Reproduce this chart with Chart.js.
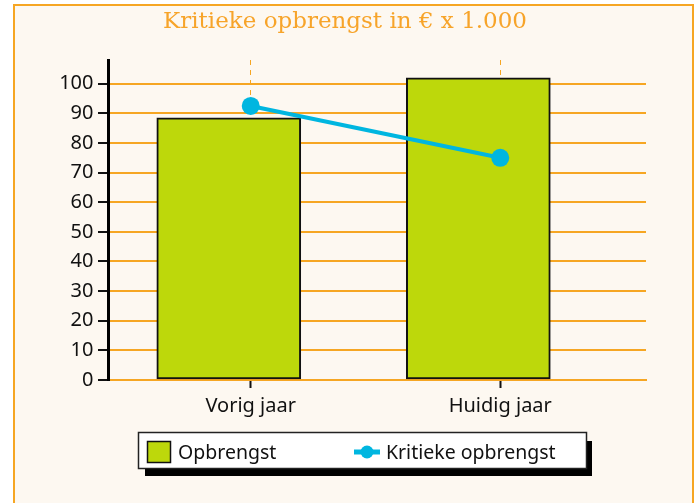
<!DOCTYPE html>
<html>
<head>
<meta charset="utf-8">
<script src="https://cdn.jsdelivr.net/npm/chart.js@4"></script>
<style>
  html, body { margin: 0; padding: 0; background: #fff; }
  #wrap { width: 697px; height: 503px; }
</style>
</head>
<body>
<div id="wrap"><canvas id="chart" width="697" height="503"></canvas></div>
<script>
const categories = ['Vorig jaar', 'Huidig jaar'];
const opbrengst = [88.5, 102];
const kritiekeOpbrengst = [92.5, 75];
const yTicks = [0, 10, 20, 30, 40, 50, 60, 70, 80, 90, 100];

const ORANGE = '#f6a623';
const LIME = '#bdd80b';
const CYAN = '#00b6e0';

Chart.defaults.font.family = "'Noto Sans', sans-serif";
Chart.defaults.color = '#111';

// frame + custom legend box with shadow
const decor = {
    id: 'decor',
    beforeDraw(chart) {
        const ctx = chart.ctx;
        ctx.save();
        ctx.fillStyle = '#ffffff';
        ctx.fillRect(0, 0, chart.width, chart.height);
        ctx.fillStyle = '#fdf8f1';
        ctx.fillRect(14, 5, 679, 500);
        ctx.strokeStyle = ORANGE;
        ctx.lineWidth = 2;
        ctx.strokeRect(14, 5, 679, 500);
        ctx.restore();
    },
    afterDraw(chart) {
        const ctx = chart.ctx;
        const ds = chart.data.datasets;
        ctx.save();
        // shadow
        ctx.fillStyle = '#000';
        ctx.fillRect(145, 441, 447, 35);
        // box
        ctx.fillStyle = '#fff';
        ctx.fillRect(138.5, 432.5, 448, 36);
        ctx.strokeStyle = '#222';
        ctx.lineWidth = 1.5;
        ctx.strokeRect(138.5, 432.5, 448, 36);

        ctx.font = "19.5px 'Noto Sans', sans-serif";
        ctx.textBaseline = 'alphabetic';

        // bar item
        const bar = ds.find(d => d.type === 'bar');
        ctx.fillStyle = bar.backgroundColor;
        ctx.fillRect(147.5, 441.5, 23, 21);
        ctx.strokeStyle = '#111';
        ctx.lineWidth = 1.5;
        ctx.strokeRect(147.5, 441.5, 23, 21);
        ctx.fillStyle = '#111';
        ctx.fillText(bar.label, 178, 459);

        // line item
        const line = ds.find(d => d.type === 'line');
        ctx.strokeStyle = line.borderColor;
        ctx.lineWidth = 5;
        ctx.beginPath();
        ctx.moveTo(354, 452);
        ctx.lineTo(380, 452);
        ctx.stroke();
        ctx.fillStyle = line.borderColor;
        ctx.beginPath();
        ctx.arc(367, 452, 6.5, 0, Math.PI * 2);
        ctx.fill();
        ctx.fillStyle = '#111';
        ctx.fillText(line.label, 386, 459);
        ctx.restore();
    }
};

const data = {
    datasets: [
        {
            type: 'line',
            label: 'Kritieke opbrengst',
            data: kritiekeOpbrengst.map((v, i) => ({ x: i, y: v })),
            xAxisID: 'x',
            borderColor: CYAN,
            backgroundColor: CYAN,
            borderWidth: 4,
            pointRadius: 9,
            pointBackgroundColor: CYAN,
            pointBorderWidth: 0,
            order: 0
        },
        {
            type: 'bar',
            label: 'Opbrengst',
            data: opbrengst.map((v, i) => ({ x: i, y: v })),
            xAxisID: 'xb',
            backgroundColor: LIME,
            borderColor: '#111',
            borderWidth: 2,
            borderSkipped: false,
            grouped: false,
            barThickness: 144,
            order: 1
        }
    ]
};

const config = {
    type: 'bar',
    data: data,
    options: {
        responsive: false,
        animation: false,
        devicePixelRatio: 1,
        layout: {
            padding: { left: 44, right: 51, top: 0, bottom: 83 }
        },
        plugins: {
            legend: { display: false },
            tooltip: { enabled: false },
            title: {
                display: true,
                text: 'Kritieke opbrengst in € x 1.000',
                color: '#f7a42a',
                font: { family: "'DejaVu Serif', serif", size: 23, weight: 'normal', lineHeight: 1.2 },
                padding: { top: 8, bottom: 24.4 }
            }
        },
        scales: {
            x: {
                type: 'linear',
                offset: false,
                min: -0.572,
                max: 1.584,
                afterBuildTicks: (scale) => {
                    scale.ticks = categories.map((c, i) => ({ value: i }));
                },
                afterFit: (scale) => { scale.height = 40; },
                ticks: {
                    callback: (v) => categories[v],
                    font: { size: 20 },
                    color: '#111',
                    padding: 6,
                    maxRotation: 0
                },
                grid: {
                    offset: false,
                    color: ORANGE,
                    lineWidth: 1,
                    tickBorderDash: [],
                    tickColor: '#111',
                    tickLength: 8,
                    tickWidth: 2
                },
                border: { display: true, color: ORANGE, width: 2, dash: [5, 5] }
            },
            xb: {
                type: 'linear',
                offset: false,
                min: -0.484,
                max: 1.672,
                display: false,
                afterBuildTicks: (scale) => {
                    scale.ticks = categories.map((c, i) => ({ value: i }));
                },
                grid: { offset: false }
            },
            y: {
                min: 0,
                max: 108,
                afterBuildTicks: (scale) => {
                    scale.ticks = yTicks.map(v => ({ value: v }));
                },
                afterFit: (scale) => { scale.width = 64; },
                ticks: {
                    font: { size: 20 },
                    color: '#111',
                    padding: 4.5
                },
                grid: {
                    color: ORANGE,
                    lineWidth: 2,
                    tickColor: '#111',
                    tickLength: 10,
                    tickWidth: 2
                },
                border: { display: true, color: '#000', width: 3 }
            }
        }
    },
    plugins: [decor]
};

var chart = new Chart(
    document.getElementById('chart'),
    config
);
</script>
</body>
</html>
